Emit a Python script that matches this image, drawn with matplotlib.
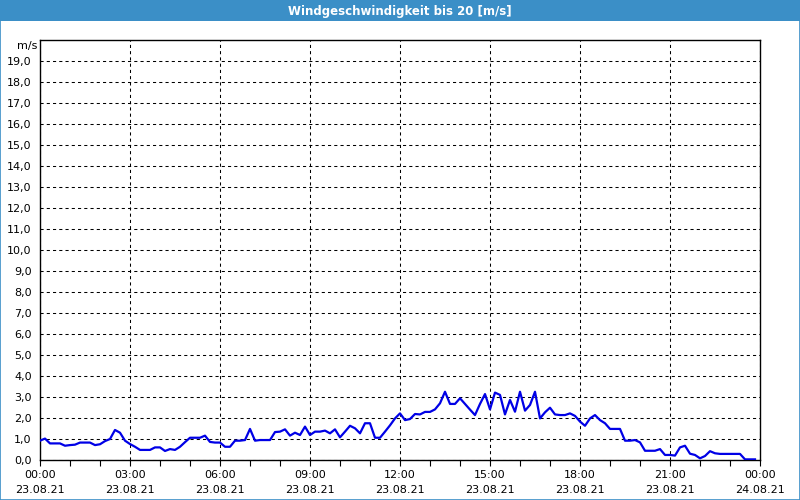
import matplotlib
matplotlib.use("Agg")
import matplotlib.pyplot as plt
from matplotlib.patches import Rectangle
from matplotlib.ticker import MultipleLocator, FuncFormatter

# Messzeitpunkte (23.08.21) und Windgeschwindigkeit in m/s
zeiten = ["00:00", "00:10", "00:20", "00:30", "00:40", "00:50",
          "01:00", "01:10", "01:20", "01:30", "01:40", "01:50",
          "02:00", "02:10", "02:20", "02:30", "02:40", "02:50",
          "03:00", "03:10", "03:20", "03:30", "03:40", "03:50",
          "04:00", "04:10", "04:20", "04:30", "04:40", "04:50",
          "05:00", "05:10", "05:20", "05:30", "05:40", "05:50",
          "06:00", "06:10", "06:20", "06:30", "06:40", "06:50",
          "07:00", "07:10", "07:20", "07:30", "07:40", "07:50",
          "08:00", "08:10", "08:20", "08:30", "08:40", "08:50",
          "09:00", "09:10", "09:20", "09:30", "09:40", "09:50",
          "10:00", "10:10", "10:20", "10:30", "10:40", "10:50",
          "11:00", "11:10", "11:20", "11:30", "11:40", "11:50",
          "12:00", "12:10", "12:20", "12:30", "12:40", "12:50",
          "13:00", "13:10", "13:20", "13:30", "13:40", "13:50",
          "14:00", "14:10", "14:20", "14:30", "14:40", "14:50",
          "15:00", "15:10", "15:20", "15:30", "15:40", "15:50",
          "16:00", "16:10", "16:20", "16:30", "16:40", "16:50",
          "17:00", "17:10", "17:20", "17:30", "17:40", "17:50",
          "18:00", "18:10", "18:20", "18:30", "18:40", "18:50",
          "19:00", "19:10", "19:20", "19:30", "19:40", "19:50",
          "20:00", "20:10", "20:20", "20:30", "20:40", "20:50",
          "21:00", "21:10", "21:20", "21:30", "21:40", "21:50",
          "22:00", "22:10", "22:20", "22:30", "22:40", "22:50",
          "23:00", "23:10", "23:20", "23:30", "23:40", "23:50"]

wind = [0.92, 1.02, 0.79, 0.79, 0.79, 0.68,
        0.71, 0.73, 0.83, 0.83, 0.83, 0.71,
        0.75, 0.90, 1.00, 1.43, 1.30, 0.92,
        0.76, 0.63, 0.48, 0.48, 0.48, 0.60,
        0.60, 0.43, 0.52, 0.48, 0.63, 0.85,
        1.06, 1.06, 1.06, 1.16, 0.86, 0.83,
        0.83, 0.63, 0.63, 0.92, 0.92, 0.95,
        1.48, 0.92, 0.95, 0.95, 0.95, 1.33,
        1.35, 1.46, 1.16, 1.30, 1.19, 1.59,
        1.19, 1.35, 1.35, 1.40, 1.27, 1.46,
        1.08, 1.35, 1.63, 1.51, 1.27, 1.75,
        1.75, 1.06, 1.06, 1.35, 1.65, 1.98,
        2.22, 1.90, 1.95, 2.19, 2.17, 2.29,
        2.29, 2.41, 2.70, 3.25, 2.67, 2.67,
        2.94, 2.67, 2.40, 2.14, 2.67, 3.14,
        2.41, 3.21, 3.10, 2.17, 2.86, 2.30,
        3.25, 2.35, 2.62, 3.25, 1.98, 2.27,
        2.49, 2.17, 2.14, 2.14, 2.22, 2.10,
        1.83, 1.63, 1.98, 2.14, 1.90, 1.75,
        1.48, 1.48, 1.48, 0.92, 0.92, 0.95,
        0.84, 0.44, 0.44, 0.44, 0.52, 0.24,
        0.24, 0.21, 0.60, 0.68, 0.30, 0.24,
        0.08, 0.19, 0.42, 0.32, 0.29, 0.29,
        0.29, 0.29, 0.29, 0.03, 0.03, 0.03]

x_labels = ["00:00\n23.08.21", "03:00\n23.08.21", "06:00\n23.08.21",
            "09:00\n23.08.21", "12:00\n23.08.21", "15:00\n23.08.21",
            "18:00\n23.08.21", "21:00\n23.08.21", "00:00\n24.08.21"]

titel = "Windgeschwindigkeit bis 20 [m/s]"
blau = "#3b8fc7"

stunden = [int(z[:2]) + int(z[3:]) / 60 for z in zeiten]

fig = plt.figure(figsize=(8, 5), dpi=100)
fig.patch.set_facecolor("white")

# Titelleiste und Rahmen
fig.patches.append(Rectangle((0, 1 - 21 / 500), 1, 21 / 500, transform=fig.transFigure,
                             facecolor=blau, edgecolor="none", zorder=0))
fig.patches.append(Rectangle((0.0006, 0.001), 0.9988, 0.997, transform=fig.transFigure,
                             facecolor="none", edgecolor=blau, linewidth=1.2, zorder=1))
fig.text(0.5, 1 - 11 / 500, titel, color="white", fontsize=8.5, fontweight="bold",
         ha="center", va="center", family="DejaVu Sans")

ax = fig.add_axes([40 / 800, 40 / 500, 720 / 800, 420 / 500])
ax.plot(stunden, wind, color="#0000e6", linewidth=1.6, zorder=3)

ax.set_xlim(0, 24)
ax.set_ylim(0, 20)

ax.set_xticks(range(0, 25, 3))
ax.set_xticklabels(x_labels, fontsize=8, linespacing=1.6)
ax.xaxis.set_minor_locator(MultipleLocator(1))
ax.set_yticks(range(0, 20))
ax.yaxis.set_major_formatter(FuncFormatter(lambda v, p: f"{v:.1f}".replace(".", ",")))

ax.tick_params(axis="x", which="both", direction="out", length=4, width=0.8, pad=3)
ax.tick_params(axis="y", length=0, pad=6, labelsize=8)

ax.grid(True, color="black", linestyle=(0, (3, 3)), linewidth=0.75)
for s in ax.spines.values():
    s.set_linewidth(1)
    s.set_color("black")

# Einheit links oben neben der Achse
ax.text(-0.004, 0.997, "m/s", transform=ax.transAxes, ha="right", va="top", fontsize=8)

plt.savefig("out.png", dpi=100)
